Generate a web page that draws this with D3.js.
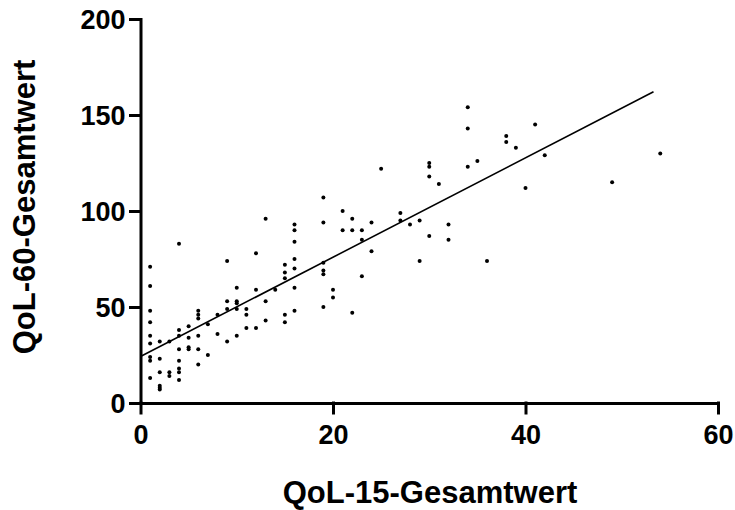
<!DOCTYPE html>
<html>
<head>
<meta charset="utf-8">
<script src="https://cdn.jsdelivr.net/npm/d3@7"></script>
<style>
  body { margin: 0; background: #fff; }
  text { font-family: "Liberation Sans", Arial, sans-serif; font-weight: bold; }
</style>
</head>
<body>
<div id="root"></div>
<script>
// QoL-15 score (x) and QoL-60 score (y)
const qol15 = [
  1, 1, 1, 1, 1, 1, 1, 1, 1,
  2, 2, 2, 2, 2, 2,
  3, 3, 3,
  4, 4, 4, 4, 4, 4, 4, 4,
  5, 5, 5, 5,
  6, 6, 6, 6, 6, 6,
  7, 7,
  8, 8,
  9, 9, 9, 9,
  10, 10, 10, 10, 10,
  11, 11, 11,
  12, 12, 12,
  13, 13, 13,
  14,
  15, 15, 15, 15, 15,
  16, 16, 16, 16, 16, 16, 16,
  19, 19, 19, 19, 19, 19,
  20, 20,
  21, 21,
  22, 22, 22,
  23, 23, 23,
  24, 24,
  25,
  27, 27,
  28,
  29, 29,
  30, 30, 30, 30,
  31,
  32, 32,
  34, 34, 34,
  35, 36,
  38, 38,
  39, 40, 41, 42, 49, 54
]
const qol60 = [
  71, 61, 48, 42, 35, 31, 24, 22, 13,
  32, 23, 16, 9, 8, 7,
  32, 16, 14,
  83, 38, 35, 28, 22, 18, 16, 12,
  40, 34, 29, 28,
  48, 46, 44, 35, 28, 20,
  41, 25,
  46, 36,
  74, 53, 49, 32,
  60, 53, 52, 49, 35,
  49, 46, 39,
  78, 59, 39,
  96, 53, 43,
  59,
  72, 68, 65, 46, 42,
  93, 90, 84, 75, 70, 60, 48,
  107, 94, 73, 69, 67, 50,
  59, 55,
  100, 90,
  96, 90, 47,
  90, 85, 66,
  94, 79,
  122,
  99, 95,
  93,
  95, 74,
  125, 123, 118, 87,
  114,
  93, 85,
  154, 143, 123,
  126, 74,
  139, 136,
  133, 112, 145, 129, 115, 130
]
const xTicks = [0, 20, 40, 60]
const yTicks = [0, 50, 100, 150, 200]
const fitRange = [0, 53.3]

const width = 735
const height = 510

const points = qol15.map((x, i) => ({ x: x, y: qol60[i] }))

// least squares fit
const mx = d3.mean(points, d => d.x)
const my = d3.mean(points, d => d.y)
const slope = d3.sum(points, d => (d.x - mx) * (d.y - my)) / d3.sum(points, d => (d.x - mx) ** 2)
const intercept = my - slope * mx

const xScale = d3.scaleLinear().domain([0, 60]).range([140.5, 718])
const yScale = d3.scaleLinear().domain([0, 200]).range([403, 19])

const svg = d3.select('#root').append('svg')
  .attr('width', width)
  .attr('height', height)

const xAxis = svg.append('g')
  .attr('transform', 'translate(0,' + yScale(0) + ')')
  .call(d3.axisBottom(xScale).tickValues(xTicks).tickSize(10).tickSizeOuter(0).tickPadding(12))

const yAxis = svg.append('g')
  .attr('transform', 'translate(' + xScale(0) + ',0)')
  .call(d3.axisLeft(yScale).tickValues(yTicks).tickSize(10).tickSizeOuter(0).tickPadding(5))

svg.selectAll('.domain, .tick line')
  .attr('stroke', '#000')
  .attr('stroke-width', 3)
  .attr('stroke-linecap', 'square')

svg.selectAll('.tick text')
  .attr('fill', '#000')
  .style('font-size', '27px')

yAxis.selectAll('.tick text').attr('dy', '0.35em')

svg.append('line')
  .attr('x1', xScale(fitRange[0]))
  .attr('y1', yScale(intercept + slope * fitRange[0]))
  .attr('x2', xScale(fitRange[1]))
  .attr('y2', yScale(intercept + slope * fitRange[1]))
  .attr('stroke', '#000')
  .attr('stroke-width', 1.6)

svg.append('g')
  .selectAll('circle')
  .data(points)
  .enter()
  .append('circle')
  .attr('cx', d => xScale(d.x))
  .attr('cy', d => yScale(d.y))
  .attr('r', 2)
  .attr('fill', '#000')

svg.append('text')
  .attr('x', 430)
  .attr('y', 503)
  .attr('text-anchor', 'middle')
  .style('font-size', '31px')
  .text('QoL-15-Gesamtwert')

svg.append('text')
  .attr('transform', 'translate(35,207) rotate(-90)')
  .attr('text-anchor', 'middle')
  .style('font-size', '31px')
  .text('QoL-60-Gesamtwert')
</script>
</body>
</html>
